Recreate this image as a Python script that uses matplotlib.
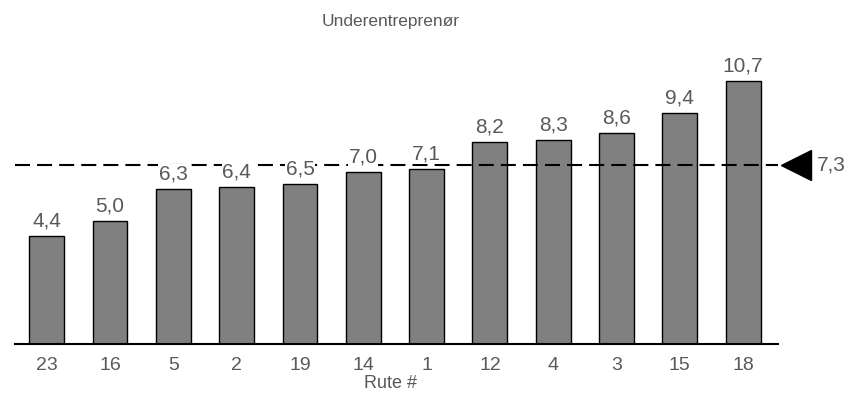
import matplotlib
matplotlib.use("Agg")
import matplotlib.pyplot as plt
import matplotlib.transforms as mtransforms

plt.rcParams['font.family'] = ['Liberation Sans', 'DejaVu Sans']

# data
routes = ['23', '16', '5', '2', '19', '14', '1', '12', '4', '3', '15', '18']
values = [4.4, 5.0, 6.3, 6.4, 6.5, 7.0, 7.1, 8.2, 8.3, 8.6, 9.4, 10.7]
average = 7.3

text_col = '#595959'

fig = plt.figure(figsize=(8.52, 3.97), dpi=100)
ax = fig.add_axes([15 / 852, 53 / 397, 763 / 852, 295 / 397])

x = range(len(routes))
ax.bar(x, values, width=0.55, color='#808080', edgecolor='black', linewidth=1.0, zorder=2)

# average line
ax.axhline(average, color='black', linewidth=1.5, dashes=(7.2, 3.4), zorder=3)

# value labels
for i, v in enumerate(values):
    ax.annotate(f"{v:.1f}".replace('.', ','), (i, v), xytext=(0, 4), textcoords='offset points',
                ha='center', va='bottom', fontsize=15, color=text_col, zorder=4,
                bbox=dict(facecolor='white', edgecolor='none', pad=0.3))

# marker and label for average, outside the axes
trans = mtransforms.blended_transform_factory(fig.transFigure, ax.transData)
ax.plot([796 / 852], [average], marker='<', markersize=22, color='black',
        transform=trans, clip_on=False, linestyle='none')
ax.text(817 / 852, average, f"{average:.1f}".replace('.', ','), transform=trans,
        ha='left', va='center', fontsize=15, color=text_col)

ax.set_xlim(-0.5, 11.55)
ax.set_ylim(0, 12)
ax.set_xticks(list(x))
ax.set_xticklabels(routes, fontsize=14, color=text_col)
ax.tick_params(axis='x', length=0, pad=9.5)
ax.set_yticks([])
for side in ['top', 'right', 'left']:
    ax.spines[side].set_visible(False)
ax.spines['bottom'].set_linewidth(1.5)

fig.text(391 / 852, 1 - 388 / 397, 'Rute #', ha='center', va='baseline',
         fontsize=13, color=text_col)
fig.text(391 / 852, 1 - 26 / 397, 'Underentreprenør', ha='center', va='baseline',
         fontsize=12.5, color=text_col)

fig.savefig('out.png', dpi=100)
